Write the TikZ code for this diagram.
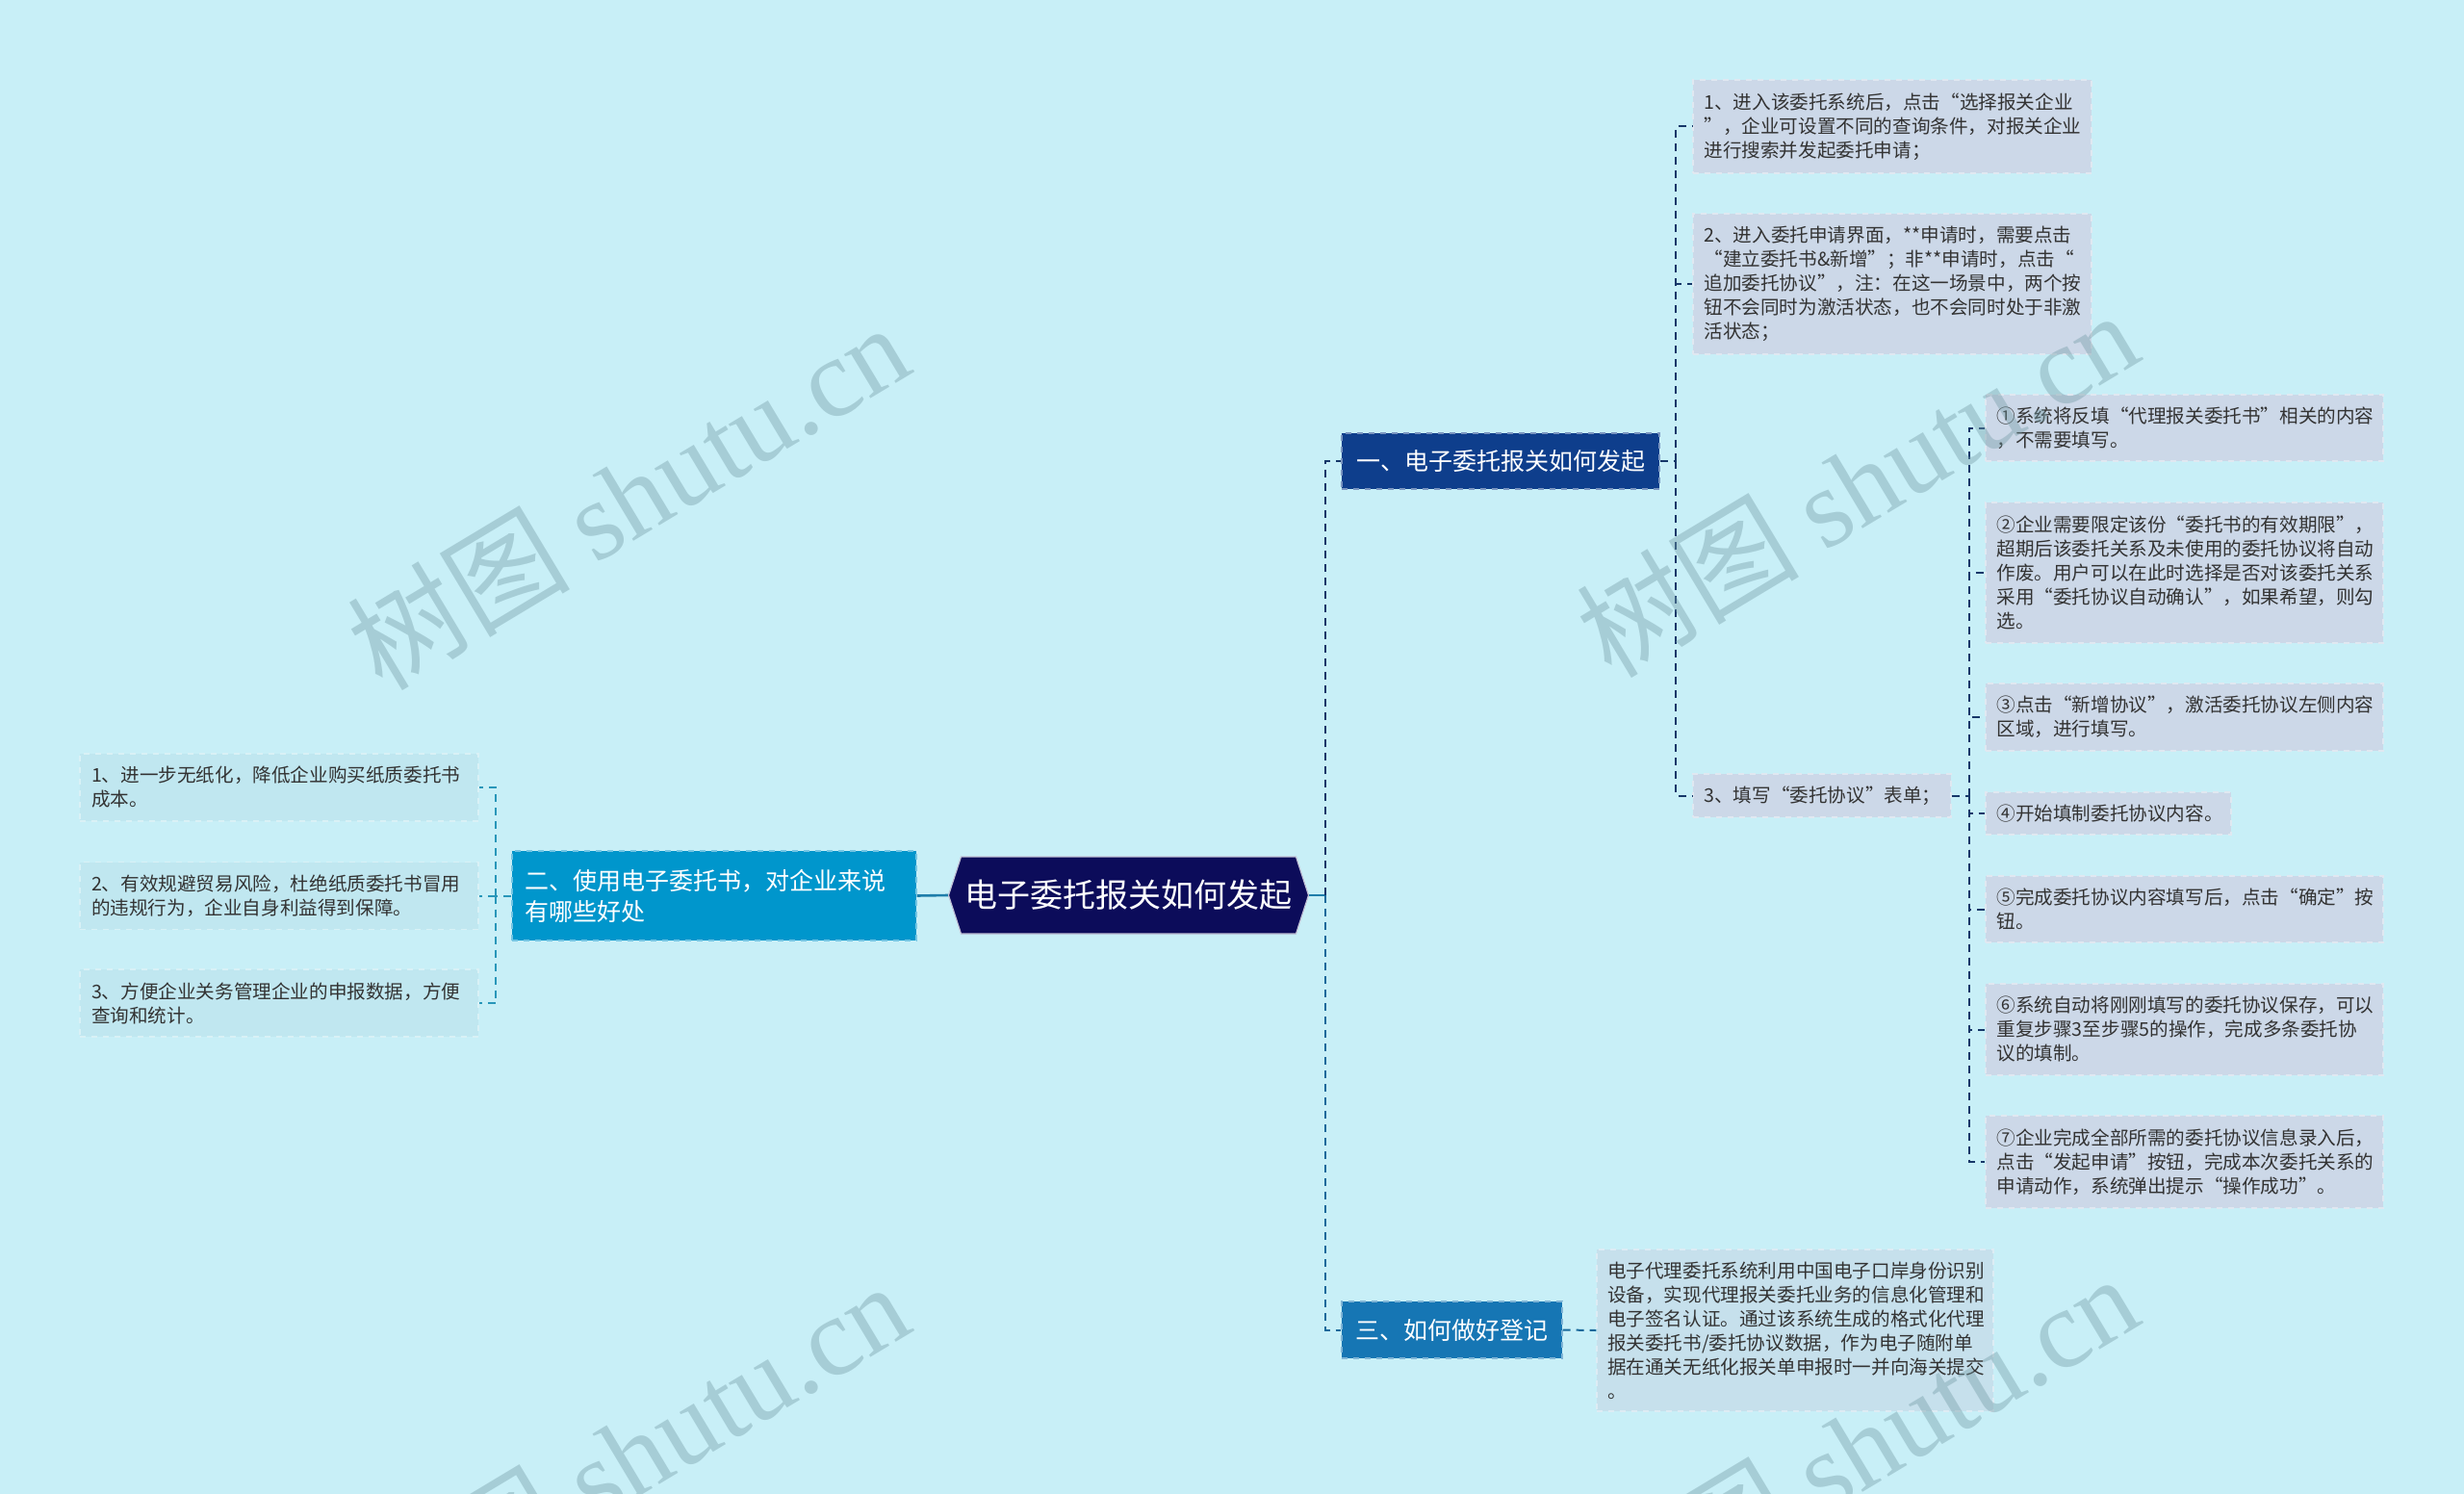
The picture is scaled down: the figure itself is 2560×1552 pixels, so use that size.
\documentclass[tikz,border=0pt]{standalone}
\usepackage{fontspec}
\setmainfont{Noto Sans CJK SC}
\newfontfamily\wmlatin{Liberation Serif}
\usetikzlibrary{shapes.symbols}
\definecolor{bg}{RGB}{200,239,247}
\definecolor{rootc}{RGB}{12,12,90}
\definecolor{onec}{RGB}{14,62,140}
\definecolor{twoc}{RGB}{0,150,204}
\definecolor{threec}{RGB}{22,118,180}
\definecolor{rboxc}{RGB}{204,216,232}
\definecolor{dboxc}{RGB}{198,224,236}
\definecolor{lboxc}{RGB}{192,231,240}
\definecolor{txt}{RGB}{51,51,51}
\definecolor{lnone}{RGB}{22,55,105}
\definecolor{lnthree}{RGB}{25,105,155}
\definecolor{lntwo}{RGB}{40,150,185}
\definecolor{lnroot}{RGB}{30,125,170}
\definecolor{wm}{RGB}{115,155,165}
\tikzset{
  small/.style={font=\fontsize{9.8}{12.5}\selectfont, text=txt, align=left, inner xsep=5.5pt, inner ysep=0pt},
  rbox/.style={small, fill=rboxc, draw=rboxc!60!white, dashed, line width=0.6pt},
  dbox/.style={small, fill=dboxc, draw=dboxc!60!white, dashed, line width=0.6pt},
  lbox/.style={small, fill=lboxc, draw=lboxc!60!white, dashed, line width=0.6pt},
  mainbox/.style={font=\fontsize{12.5}{16}\selectfont, text=white, dashed, line width=0.7pt, inner xsep=6.5pt, inner ysep=0pt},
  rootbox/.style={shape=signal, signal to=east and west, signal pointer angle=144, fill=rootc, draw=white!75!rootc, line width=0.6pt, text=white, font=\fontsize{17}{20}\selectfont, minimum width=186.5pt, minimum height=40pt, inner xsep=2pt, inner ysep=0pt},
  dashone/.style={draw=lnone, line width=1pt, dash pattern=on 4pt off 3pt},
  dashthree/.style={draw=lnthree, line width=1pt, dash pattern=on 4pt off 3pt},
  dashtwo/.style={draw=lntwo, line width=1pt, dash pattern=on 4pt off 3pt},
  solidroot/.style={draw=lnroot, line width=1.3pt},
  wmark/.style={text=wm, text opacity=0.4, rotate=31, font=\fontsize{58}{58}\selectfont, inner sep=0pt}
}
\begin{document}
\begin{tikzpicture}[x=0.5pt, y=-0.5pt]
\useasboundingbox (0,0) rectangle (2560,1552);
\fill[bg] (0,0) rectangle (2560,1552);

% root and main branches
\node[rootbox] (root) at (1172.5,930) {电子委托报关如何发起};
\node[mainbox, fill=onec, draw=onec!55!white, minimum width=165pt, minimum height=29pt] (one) at (1559,479) {一、电子委托报关如何发起};
\node[mainbox, fill=twoc, draw=twoc!55!white, minimum width=210pt, minimum height=46.5pt, text width=197pt, align=left] (two) at (742,930.5) {二、使用电子委托书，对企业来说\\有哪些好处};
\node[mainbox, fill=threec, draw=threec!55!white, minimum width=114.5pt, minimum height=29.5pt] (three) at (1508.5,1381.5) {三、如何做好登记};

% branch one children
\node[rbox, minimum width=207pt, minimum height=48.5pt, text width=195.5pt] (i1) at (1966,131.5) {1、进入该委托系统后，点击“选择报关企业\\”，企业可设置不同的查询条件，对报关企业\\进行搜索并发起委托申请；};
\node[rbox, minimum width=207pt, minimum height=73pt, text width=195.5pt] (i2) at (1966,295) {2、进入委托申请界面，**申请时，需要点击\\“建立委托书\&新增”；非**申请时，点击“\\追加委托协议”，注：在这一场景中，两个按\\钮不会同时为激活状态，也不会同时处于非激\\活状态；};
\node[rbox, minimum width=134pt, minimum height=22.5pt, text width=122.5pt] (i3) at (1893,826.5) {3、填写“委托协议”表单；};

% sub items of 3
\node[rbox, minimum width=206.5pt, minimum height=34.5pt, text width=195pt] (c1) at (2269.5,444.5) {①系统将反填“代理报关委托书”相关的内容\\，不需要填写。};
\node[rbox, minimum width=206.5pt, minimum height=73pt, text width=195pt] (c2) at (2269.5,595) {②企业需要限定该份“委托书的有效期限”，\\超期后该委托关系及未使用的委托协议将自动\\作废。用户可以在此时选择是否对该委托关系\\采用“委托协议自动确认”，如果希望，则勾\\选。};
\node[rbox, minimum width=206.5pt, minimum height=35pt, text width=195pt] (c3) at (2269.5,745) {③点击“新增协议”，激活委托协议左侧内容\\区域，进行填写。};
\node[rbox, minimum width=127.5pt, minimum height=22pt, text width=116pt] (c4) at (2190.5,845) {④开始填制委托协议内容。};
\node[rbox, minimum width=206.5pt, minimum height=34.5pt, text width=195pt] (c5) at (2269.5,944.5) {⑤完成委托协议内容填写后，点击“确定”按\\钮。};
\node[rbox, minimum width=206.5pt, minimum height=47.5pt, text width=195pt] (c6) at (2269.5,1069.5) {⑥系统自动将刚刚填写的委托协议保存，可以\\重复步骤3至步骤5的操作，完成多条委托协\\议的填制。};
\node[rbox, minimum width=206.5pt, minimum height=48pt, text width=195pt] (c7) at (2269.5,1207) {⑦企业完成全部所需的委托协议信息录入后，\\点击“发起申请”按钮，完成本次委托关系的\\申请动作，系统弹出提示“操作成功”。};

% branch three child
\node[dbox, minimum width=206pt, minimum height=84pt, text width=195pt] (desc) at (1865,1382) {电子代理委托系统利用中国电子口岸身份识别\\设备，实现代理报关委托业务的信息化管理和\\电子签名认证。通过该系统生成的格式化代理\\报关委托书/委托协议数据，作为电子随附单\\据在通关无纸化报关单申报时一并向海关提交\\。};

% branch two children
\node[lbox, minimum width=207pt, minimum height=35pt, text width=195pt] (L1) at (290,818) {1、进一步无纸化，降低企业购买纸质委托书\\成本。};
\node[lbox, minimum width=207pt, minimum height=35pt, text width=195pt] (L2) at (290,930.5) {2、有效规避贸易风险，杜绝纸质委托书冒用\\的违规行为，企业自身利益得到保障。};
\node[lbox, minimum width=207pt, minimum height=35pt, text width=195pt] (L3) at (290,1042) {3、方便企业关务管理企业的申报数据，方便\\查询和统计。};

% connectors
\coordinate (rb) at (1377,930);
\coordinate (b1) at (1741,479);
\coordinate (sb) at (2046,826.5);
\coordinate (lb) at (515,930.5);

\draw[solidroot] (root.west) -- (two.east);
\draw[solidroot] (root.east) -- (rb);
\draw[dashone] (rb) |- (one.west);
\draw[dashthree] (rb) |- (three.west);

\draw[dashone] (one.east) -- (b1);
\draw[dashone] (b1) |- (i1.west);
\draw[dashone] (b1) |- (i2.west);
\draw[dashone] (b1) |- (i3.west);

\draw[dashone] (i3.east) -- (sb);
\foreach \c in {c1,c2,c3,c4,c5,c6,c7} {\draw[dashone] (sb) |- (\c.west);}

\draw[dashthree] (three.east) -- (desc.west);

\draw[dashtwo] (two.west) -- (lb);
\draw[dashtwo] (lb) |- (L1.east);
\draw[dashtwo] (lb) |- (L2.east);
\draw[dashtwo] (lb) |- (L3.east);

% watermarks
\node[wmark] (wm1) at (652,515) {树图 {\wmlatin shutu.cn}};
\node[wmark] (wm2) at (1929,502) {树图 {\wmlatin shutu.cn}};
\node[wmark] (wm3) at (652,1511) {树图 {\wmlatin shutu.cn}};
\node[wmark] (wm4) at (1929,1503) {树图 {\wmlatin shutu.cn}};
\end{tikzpicture}
\end{document}
